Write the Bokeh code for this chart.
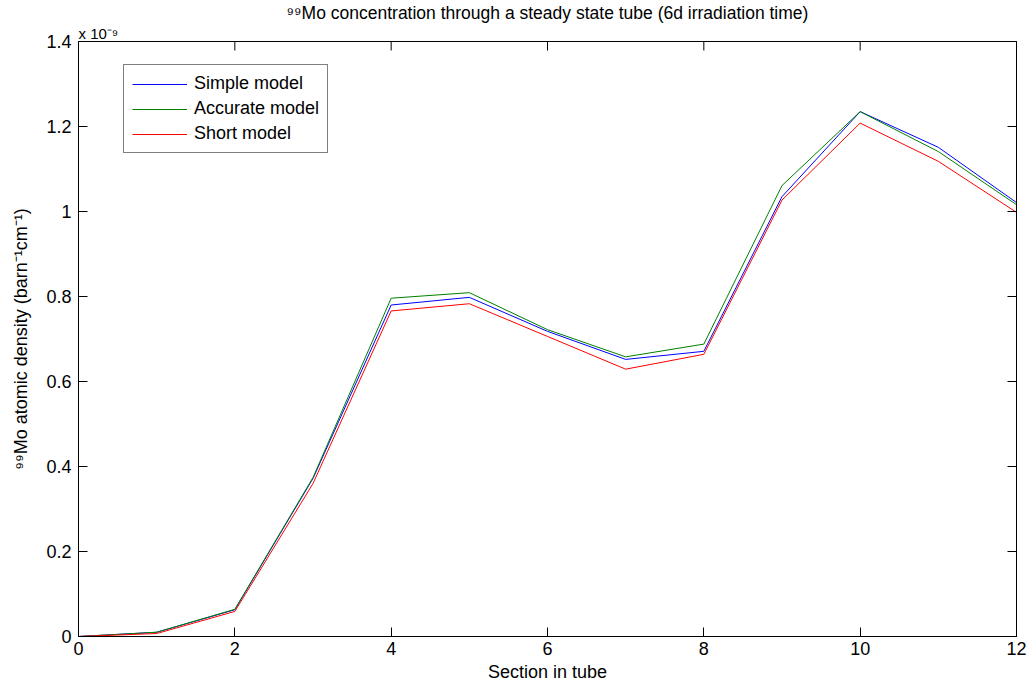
import math
from bokeh.plotting import figure
from bokeh.models import (Legend, LegendItem, LinearAxis, FixedTicker, PrintfTickFormatter,
                          Title, Range1d)
from bokeh.embed import file_html
from bokeh.resources import INLINE

# Data (atomic density in units of 1e-9 barn^-1 cm^-1)
sections = [0, 1, 2, 3, 4, 5, 6, 7, 8, 9, 10, 11, 12]
simple_model = [0.0, 0.010, 0.063, 0.372, 0.780, 0.798, 0.718, 0.652, 0.671, 1.035, 1.235, 1.151, 1.021]
accurate_model = [0.0, 0.010, 0.064, 0.374, 0.796, 0.809, 0.722, 0.658, 0.688, 1.061, 1.235, 1.141, 1.016]
short_model = [0.0, 0.007, 0.059, 0.360, 0.766, 0.783, 0.706, 0.629, 0.664, 1.027, 1.208, 1.118, 0.998]
series_names = ["Simple model", "Accurate model", "Short model"]
series_colors = ["#0000FF", "#008000", "#FF0000"]
x_ticks = [0, 2, 4, 6, 8, 10, 12]
y_ticks = [0, 0.2, 0.4, 0.6, 0.8, 1.0, 1.2, 1.4]
X_MIN, X_MAX = 0, 12
Y_MIN, Y_MAX = 0, 1.4

FONT = "Liberation Sans"
FS = "18px"

p = figure(frame_width=938, frame_height=595, output_backend="svg", toolbar_location=None,
           x_range=Range1d(X_MIN, X_MAX), y_range=Range1d(Y_MIN, Y_MAX),
           min_border_left=78, min_border_right=14, min_border_top=40, min_border_bottom=50,
           background_fill_color="white", border_fill_color="white")
p.xgrid.visible = False
p.ygrid.visible = False
p.outline_line_color = "black"
p.outline_line_width = 1

def style_axis(ax, labels=True):
    ax.axis_line_color = "black"
    ax.axis_line_width = 1
    ax.major_tick_in = 9
    ax.major_tick_out = 0
    ax.minor_tick_line_color = None
    ax.major_tick_line_color = "black"
    ax.major_label_text_font = FONT
    ax.major_label_text_font_size = FS if labels else "1px"
    ax.major_label_text_color = "black" if labels else None
    ax.axis_label_text_font = FONT
    ax.axis_label_text_font_size = FS
    ax.axis_label_text_font_style = "normal"
    ax.axis_label_text_color = "black"

xax = p.xaxis[0]
yax = p.yaxis[0]
xax.ticker = FixedTicker(ticks=x_ticks)
yax.ticker = FixedTicker(ticks=y_ticks)
xax.formatter = PrintfTickFormatter(format="%g")
yax.formatter = PrintfTickFormatter(format="%g")
style_axis(xax)
style_axis(yax)
xax.axis_label = "Section in tube"
yax.axis_label = "\u2079\u2079Mo atomic density (barn\u207b\u00b9cm\u207b\u00b9)"
xax.major_label_standoff = 5
xax.axis_label_standoff = 4
yax.major_label_standoff = 7
yax.axis_label_standoff = 12

right = LinearAxis(ticker=FixedTicker(ticks=y_ticks))
style_axis(right, labels=False)
right.major_label_standoff = 0
p.add_layout(right, "right")

# inward tick marks along the top edge (box on)
p.ray(x=x_ticks, y=[Y_MAX] * len(x_ticks), length=9, length_units="screen",
      angle=-math.pi / 2, line_color="black", line_width=1)

renderers = []
for vals, color in zip([simple_model, accurate_model, short_model], series_colors):
    r = p.line(sections, vals, line_color=color, line_width=1)
    renderers.append(r)

legend = Legend(items=[LegendItem(label=n, renderers=[r]) for n, r in zip(series_names, renderers)],
                location=(45, 483))
legend.border_line_color = "black"
legend.border_line_width = 1
legend.background_fill_color = "white"
legend.background_fill_alpha = 1
legend.label_text_font = FONT
legend.label_text_font_size = FS
legend.label_text_color = "black"
legend.glyph_width = 55
legend.glyph_height = 20
legend.label_height = 20
legend.spacing = 4
legend.padding = 8
legend.margin = 0
legend.label_standoff = 7
p.add_layout(legend, "center")

mult = Title(text="x 10\u207b\u2079", align="left", text_font=FONT, text_font_size="15px",
             text_font_style="normal", text_color="black", standoff=0, offset=0)
p.add_layout(mult, "above")
main_title = Title(text="\u2079\u2079Mo concentration through a steady state tube (6d irradiation time)",
                   align="center", text_font=FONT, text_font_size="17.5px", text_font_style="normal",
                   text_color="black", standoff=0)
p.add_layout(main_title, "above")

open("out.html", "w").write(file_html(p, INLINE))
